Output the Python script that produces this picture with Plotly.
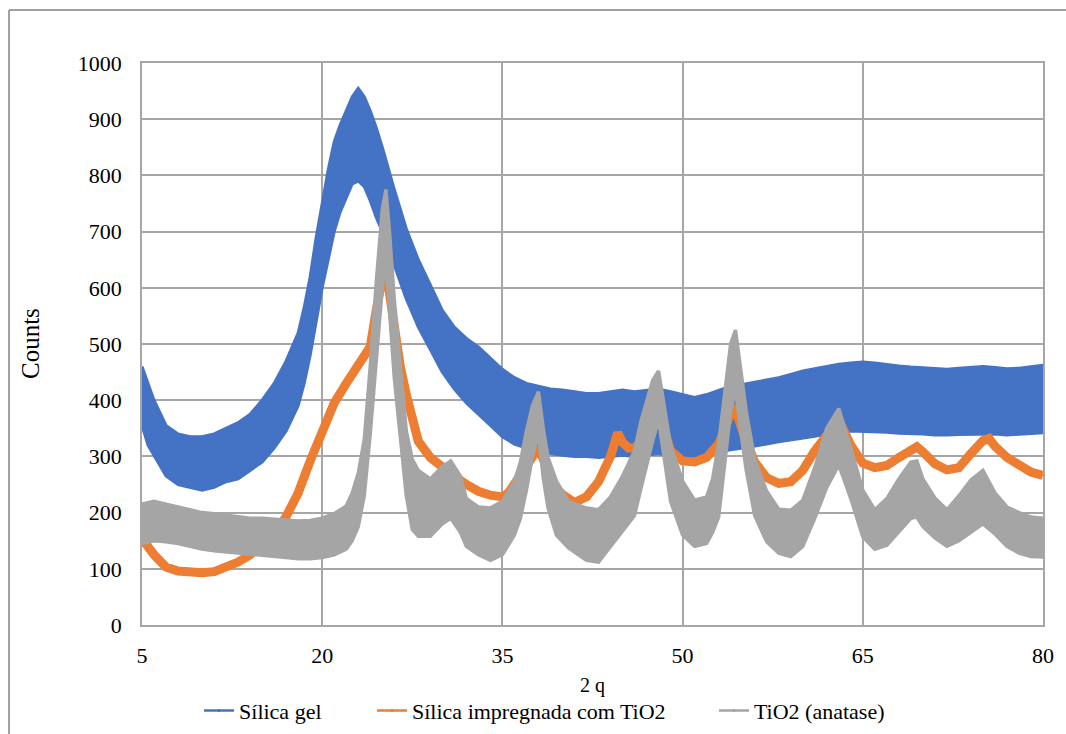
import plotly.graph_objects as go

# ---------------- data ----------------
# Sílica gel: noisy band, lower / upper envelope
blue_x = [5, 5.5, 6, 7, 8, 9, 10, 11, 12, 13, 14, 15, 16, 17, 18, 18.5, 19, 19.5, 20, 20.5,
          21, 21.5, 22, 22.5, 23, 23.5, 24, 24.5, 25, 26, 27, 28, 29, 30, 31, 32, 33, 34, 35,
          36, 37, 38, 39, 40, 41, 42, 43, 44, 45, 46, 47, 48, 49, 50, 51, 52, 53, 54, 55, 56,
          57, 58, 59, 60, 61, 62, 63, 64, 65, 66, 67, 68, 69, 70, 71, 72, 73, 74, 75, 76, 77,
          78, 79, 80]
blue_lo = [355, 320, 300, 265, 250, 245, 240, 245, 255, 260, 275, 290, 315, 345, 390, 430, 480, 540, 600, 650,
           700, 735, 760, 785, 790, 780, 755, 725, 700, 640, 580, 530, 490, 450, 420, 395, 375, 355, 335,
           322, 315, 310, 305, 302, 300, 300, 298, 300, 302, 300, 303, 305, 300, 298, 298, 302, 308, 312, 315, 318,
           322, 326, 330, 333, 336, 340, 342, 345, 345, 344, 343, 341, 340, 340, 338, 338, 339, 340, 340, 340, 338,
           340, 341, 342]
blue_hi = [460, 430, 400, 355, 340, 335, 335, 340, 350, 360, 375, 400, 430, 470, 520, 565, 620, 690, 750, 810,
           860, 890, 915, 940, 955, 940, 915, 885, 850, 775, 705, 650, 605, 560, 530, 510, 495, 475, 455,
           440, 430, 425, 420, 418, 415, 412, 412, 415, 418, 415, 418, 420, 415, 410, 405, 410, 418, 425, 428, 432,
           436, 440, 446, 452, 456, 460, 464, 466, 468, 466, 463, 461, 459, 458, 456, 455, 457, 458, 460, 458, 456,
           457, 460, 462]

# Sílica impregnada com TiO2: thick line
orange_x = [5, 5.3, 6, 7, 8, 9, 10, 11, 12, 13, 14, 15, 16, 17, 18, 19, 20, 21, 22, 23, 24, 24.5, 25,
            25.3, 25.6, 26, 26.5, 27, 27.5, 28, 29, 30, 31, 32, 33, 34, 35, 35.5, 36, 36.5, 37, 37.5,
            38, 38.5, 39, 40, 41, 42, 43, 44, 44.6, 45, 45.5, 46, 47, 47.5, 48, 48.5, 49, 50, 51, 52,
            53, 53.7, 54.3, 55, 55.5, 56, 57, 58, 59, 60, 61, 62, 63, 64, 65, 66, 67, 68, 69, 69.5, 70,
            71, 72, 73, 74, 75, 75.5, 76, 77, 78, 79, 80]
orange_y = [170, 145, 125, 103, 96, 93, 93, 95, 102, 112, 125, 142, 163, 193, 235, 292, 345, 395, 430, 460, 495, 560, 625,
            650, 590, 530, 460, 410, 360, 327, 298, 280, 265, 250, 238, 231, 228, 235, 250, 268, 282, 300,
            315, 290, 255, 232, 218, 228, 255, 300, 342, 325, 315, 315, 335, 360, 395, 345, 310, 292, 290, 298,
            322, 360, 390, 345, 320, 290, 262, 252, 255, 275, 310, 340, 365, 320, 288, 280, 284, 298, 312, 317, 308,
            287, 276, 280, 305, 328, 332, 318, 298, 284, 272, 266]

# TiO2 (anatase): noisy band, lower / upper envelope
gray_x = [5, 6, 7, 8, 9, 10, 11, 12, 13, 14, 15, 16, 17, 18, 19, 20, 21, 22, 22.5, 23, 23.5, 24, 24.5,
          25, 25.3, 25.6, 26, 26.5, 27, 27.5, 28, 29, 30, 30.7, 31.5, 32, 33, 34, 35, 36, 36.5, 37, 37.5,
          38, 38.4, 38.8, 39.5, 40.5, 42, 43, 44, 45, 46, 46.5, 47, 47.5, 48, 48.5, 49, 50, 51, 52, 52.5,
          53, 53.5, 54, 54.4, 54.8, 55.3, 56, 57, 58, 59, 60, 61, 62, 63, 64, 65, 66, 67, 68, 69, 69.5,
          70, 71, 72, 73, 74, 75, 76, 77, 78, 79, 80]
gray_lo = [145, 150, 148, 145, 140, 135, 132, 130, 128, 125, 124, 122, 120, 118, 118, 120, 125, 135, 150, 175, 230, 340, 470,
           600, 650, 560, 440, 340, 230, 170, 158, 158, 180, 190, 165, 140, 125, 115, 125, 160, 190, 240, 300,
           340, 262, 208, 160, 137, 115, 112, 140, 168, 195, 240, 280, 327, 365, 295, 220, 160, 140, 145, 165,
           192, 285, 380, 420, 350, 275, 195, 148, 128, 122, 140, 190, 245, 285, 225, 157, 135, 142, 165, 190, 192,
           175, 155, 140, 150, 165, 180, 162, 140, 128, 122, 121]
gray_hi = [215, 220, 215, 210, 205, 200, 198, 195, 192, 190, 190, 188, 186, 185, 186, 190, 198, 212, 235, 270, 330, 460, 610,
           740, 775, 700, 580, 460, 345, 295, 275, 260, 282, 292, 265, 225, 210, 208, 220, 256, 290, 345, 390,
           415, 350, 298, 256, 220, 208, 205, 228, 265, 310, 360, 400, 435, 452, 385, 320, 256, 222, 228, 260,
           323, 410, 500, 525, 465, 380, 295, 238, 206, 204, 222, 280, 350, 385, 315, 240, 205, 225, 260, 290, 292,
           260, 226, 205, 230, 258, 275, 235, 210, 200, 192, 190]

series_names = ["Sílica gel", "Sílica impregnada com TiO2", "TiO2 (anatase)"]
series_colors = ["#4472C4", "#ED7D31", "#A5A5A5"]

x_ticks = [5, 20, 35, 50, 65, 80]
y_ticks = [0, 100, 200, 300, 400, 500, 600, 700, 800, 900, 1000]

FONT = "Liberation Serif, Times New Roman, serif"
GRID = "#a6a6a6"
FS = 22

fig = go.Figure()


def band(xs, lo, hi, color, w):
    return go.Scatter(
        x=list(xs) + list(xs)[::-1],
        y=list(hi) + list(lo)[::-1],
        fill="toself", fillcolor=color, mode="lines",
        line=dict(color=color, width=w),
        showlegend=False, hoverinfo="skip",
    )


fig.add_trace(band(blue_x, blue_lo, blue_hi, series_colors[0], 3))
fig.add_trace(go.Scatter(x=orange_x, y=orange_y, mode="lines",
                         line=dict(color=series_colors[1], width=9),
                         showlegend=False, hoverinfo="skip"))
fig.add_trace(band(gray_x, gray_lo, gray_hi, series_colors[2], 3.5))

# legend entries, one legend per entry so each sits where the reference has it
legend_ids = ["legend", "legend2", "legend3"]
legend_x = [0.0633, 0.2553, 0.6348]
for name, color, lid in zip(series_names, series_colors, legend_ids):
    fig.add_trace(go.Scatter(x=[None], y=[None], mode="lines+markers", name=name,
                             line=dict(color=color, width=2.5),
                             marker=dict(color=color, size=3), legend=lid))

legend_common = dict(orientation="h", xanchor="left", y=-0.1525, yanchor="middle",
                     font=dict(family=FONT, size=FS, color="black"),
                     bgcolor="rgba(0,0,0,0)", borderwidth=0)

fig.update_layout(
    width=1066, height=734,
    margin=dict(l=142, r=23, t=63, b=109, autoexpand=False),
    paper_bgcolor="white", plot_bgcolor="white",
    font=dict(family=FONT, size=FS, color="black"),
    showlegend=True,
    legend=dict(x=legend_x[0], **legend_common),
    legend2=dict(x=legend_x[1], **legend_common),
    legend3=dict(x=legend_x[2], **legend_common),
    xaxis=dict(range=[5, 80], tickvals=x_ticks, ticktext=[str(v) for v in x_ticks],
               showgrid=True, gridcolor=GRID, gridwidth=1.5,
               showline=True, linecolor=GRID, linewidth=1.5, mirror=True,
               zeroline=False, ticks="", ticklabelstandoff=10,
               tickfont=dict(family=FONT, size=FS, color="black")),
    yaxis=dict(range=[0, 1000], tickvals=y_ticks, ticktext=[str(v) for v in y_ticks],
               showgrid=True, gridcolor=GRID, gridwidth=1.5,
               showline=True, linecolor=GRID, linewidth=1.5, mirror=True,
               zeroline=False, ticks="", ticklabelstandoff=14,
               tickfont=dict(family=FONT, size=FS, color="black")),
    annotations=[
        dict(text="Counts", xref="paper", yref="paper", x=-0.1243, y=0.5,
             textangle=-90, showarrow=False, xanchor="center", yanchor="middle",
             font=dict(family=FONT, size=25, color="black")),
        dict(text="2 q", xref="paper", yref="paper", x=0.5, y=-0.1085,
             showarrow=False, xanchor="center", yanchor="middle",
             font=dict(family=FONT, size=20, color="black")),
    ],
    shapes=[
        dict(type="line", xref="paper", yref="paper", x0=-0.1476, x1=-0.1476, y0=-0.2, y1=1.0943,
             line=dict(color="#a0a0a0", width=2)),
        dict(type="line", xref="paper", yref="paper", x0=-0.1476, x1=1.03, y0=1.0943, y1=1.0943,
             line=dict(color="#a0a0a0", width=2)),
    ],
)

fig.write_html("out.html", config={"displayModeBar": False})
with open("out.html", "r", encoding="utf-8") as f:
    html = f.read()
html = html.replace("<body>", '<body style="margin:0;padding:0;overflow:hidden">', 1)
with open("out.html", "w", encoding="utf-8") as f:
    f.write(html)
